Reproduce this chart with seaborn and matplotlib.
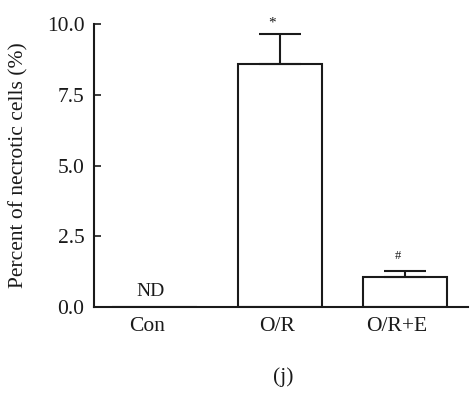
import matplotlib
matplotlib.use("Agg")
import matplotlib.pyplot as plt
import matplotlib.transforms as mtransforms
import seaborn as sns
import numpy as np

groups = ["Con", "O/R", "O/R+E"]
values = [0.0, 8.58, 1.06]
errors = [0.0, 1.08, 0.22]
marks = ["ND", "*", "#"]
yticks = [0.0, 2.5, 5.0, 7.5, 10.0]

sns.set_theme(style="ticks")
plt.rcParams["font.family"] = ["Liberation Serif", "DejaVu Serif"]

fig = plt.figure(figsize=(4.75, 3.96), dpi=100)
ax = fig.add_axes([0.198, 0.225, 0.787, 0.714])

sns.barplot(x=groups, y=values, color="white", edgecolor="#1a1a1a",
            linewidth=1.5, width=0.67, errorbar=None, ax=ax, saturation=1)

idx = np.array([1, 2])
v = np.array(values)[idx]
e = np.array(errors)[idx]
ax.errorbar(idx, v, yerr=[np.zeros_like(e), e], fmt="none", ecolor="#1a1a1a",
            elinewidth=1.5, capsize=14.8, capthick=1.5)

ax.set_xlim(-0.482, 2.498)
ax.set_ylim(0, 10)
ax.set_yticks(yticks)
ax.set_yticklabels([f"{t:.1f}" for t in yticks])
ax.tick_params(axis="y", direction="in", length=5, width=1.2, pad=7,
               labelsize=15.5, colors="#1a1a1a")
ax.tick_params(axis="x", length=0, pad=7, labelsize=15.5, colors="#1a1a1a")
for s in ["top", "right"]:
    ax.spines[s].set_visible(False)
for s in ["left", "bottom"]:
    ax.spines[s].set_linewidth(1.5)
    ax.spines[s].set_color("#1a1a1a")

# small leftward shifts of category labels as in the reference
shifts_px = [-7, -3, -9]
for lab, dx in zip(ax.get_xticklabels(), shifts_px):
    lab.set_transform(lab.get_transform() +
                      mtransforms.ScaledTranslation(dx / 100, 0, fig.dpi_scale_trans))

ax.set_ylabel("Percent of necrotic cells (%)", fontsize=15.5, color="#1a1a1a", labelpad=13)
ax.set_xlabel("")

ax.text(-0.035, 0.25, marks[0], ha="center", va="bottom", fontsize=14, color="#1a1a1a")
ax.text(1 - 0.06, values[1] + errors[1] + 0.15, marks[1], ha="center", va="bottom",
        fontsize=11, color="#1a1a1a")
ax.text(2 - 0.06, values[2] + errors[2] + 0.32, marks[2], ha="center", va="bottom",
        fontsize=9, color="#1a1a1a")

fig.text(283 / 475, 1 - 377 / 396, "(j)", ha="center", va="center", fontsize=15.5,
         color="#1a1a1a")

fig.savefig("out.png", dpi=100, facecolor="white")
